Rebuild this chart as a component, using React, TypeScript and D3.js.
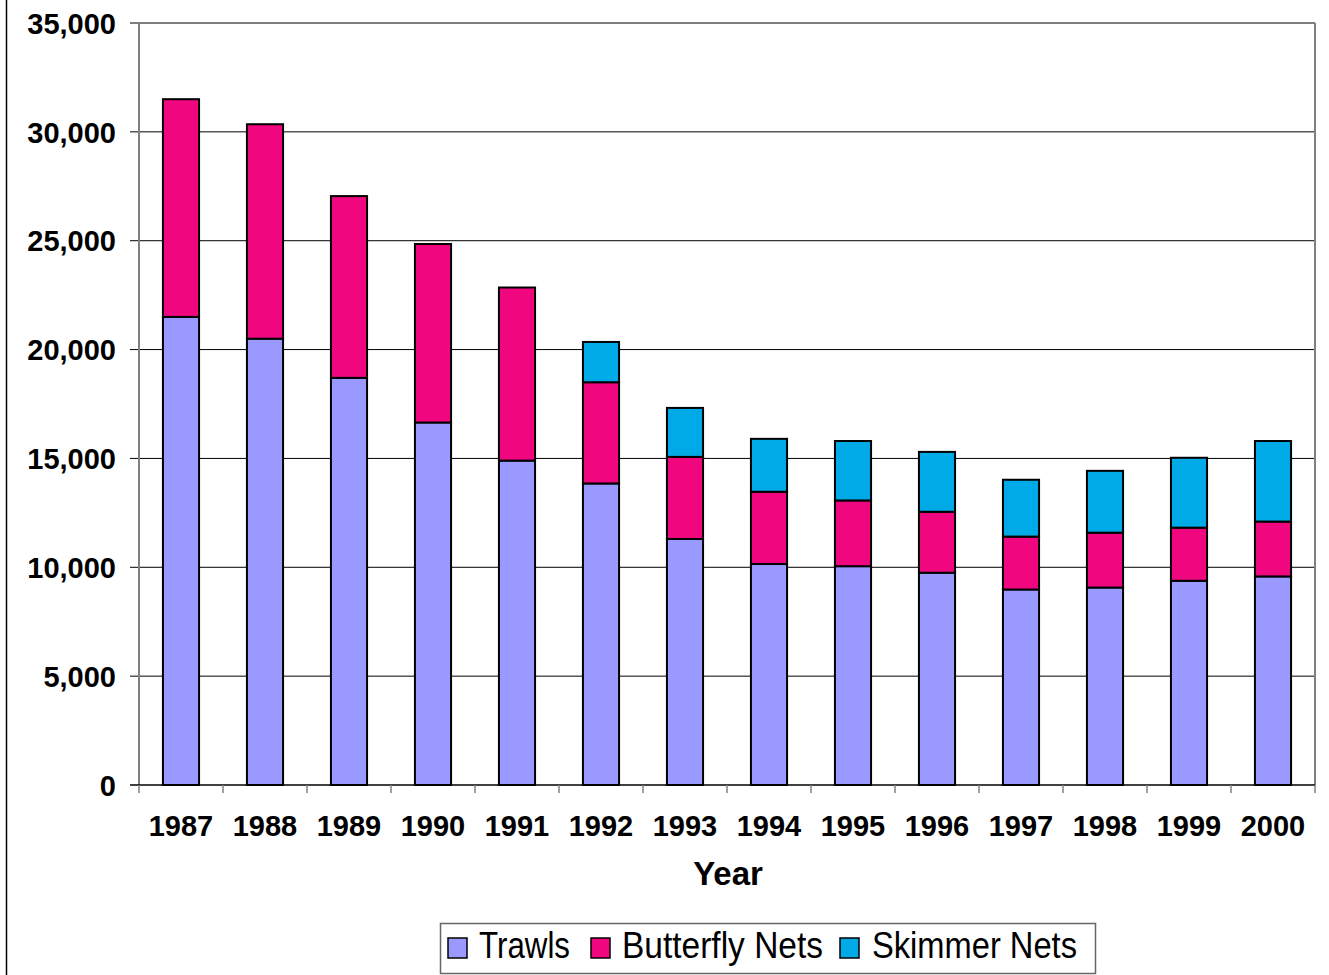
import React from "react";
import * as d3 from "d3";

const years = ["1987","1988","1989","1990","1991","1992","1993","1994","1995","1996","1997","1998","1999","2000"];
const trawls = [21500,20500,18700,16650,14900,13850,11300,10150,10050,9750,8980,9070,9380,9580];
const butterfly = [10000,9850,8350,8200,7950,4650,3770,3320,3020,2800,2430,2520,2440,2520];
const skimmer = [0,0,0,0,0,1850,2250,2430,2730,2750,2610,2840,3210,3700];
const seriesNames = ["Trawls","Butterfly Nets","Skimmer Nets"];
const seriesColors = ["#9999FF","#F0077F","#00AAE6"];
const yTicks = [0,5000,10000,15000,20000,25000,30000,35000];

export default function App() {
  const W = 1329, H = 975;
  const left = 139, right = 1315, top = 23, bottom = 785;
  const x = d3.scaleBand().domain(years).range([left, right]).paddingInner(0.57).paddingOuter(0.285);
  const y = d3.scaleLinear().domain([0, 35000]).range([bottom, top]);
  const fmt = d3.format(",");
  const rows = years.map((yr, i) => ({ year: yr, Trawls: trawls[i], "Butterfly Nets": butterfly[i], "Skimmer Nets": skimmer[i] }));
  const stacked = d3.stack<any>().keys(seriesNames)(rows);
  const step = (right - left) / years.length;
  const font = "'Liberation Sans', Arial, sans-serif";
  const legendItems = [
    { x: 448, tx: 479, tl: 91 },
    { x: 591, tx: 622, tl: 201 },
    { x: 840, tx: 872, tl: 205 },
  ];
  return (
    <svg width={W} height={H} style={{ position: "absolute", left: 0, top: 0, background: "#fff" }} fontFamily={font}>
      <line x1={6.5} y1={0} x2={6.5} y2={H} stroke="#000" strokeWidth={1.5} />
      {yTicks.map(t => (
        <g key={t}>
          {t > 0 && <line x1={left - 9} x2={right} y1={y(t)} y2={y(t)} stroke="#000" strokeWidth={1} />}
          <text x={116} y={y(t)} dy="0.37em" textAnchor="end" fontSize={29} fontWeight="bold" fill="#000">{fmt(t)}</text>
        </g>
      ))}
      <line x1={left} x2={left} y1={top} y2={bottom} stroke="#808080" strokeWidth={2} />
      <line x1={right} x2={right} y1={top} y2={bottom} stroke="#808080" strokeWidth={2} />
      {stacked.map((s, si) => (
        <g key={si}>
          {s.map((d, i) => d[1] - d[0] > 0 ? (
            <rect key={i} x={x(years[i])!} width={x.bandwidth()} y={y(d[1])} height={y(d[0]) - y(d[1])}
              fill={seriesColors[si]} stroke="#000" strokeWidth={2} />
          ) : null)}
        </g>
      ))}
      <line x1={left - 9} x2={right} y1={bottom} y2={bottom} stroke="#000" strokeWidth={1.5} />
      {d3.range(years.length + 1).map(i => (
        <line key={i} x1={left + i * step} x2={left + i * step} y1={bottom} y2={bottom + 8} stroke="#808080" strokeWidth={1.5} />
      ))}
      {years.map(yr => (
        <text key={yr} x={x(yr)! + x.bandwidth() / 2} y={836} textAnchor="middle" fontSize={29} fontWeight="bold" fill="#000">{yr}</text>
      ))}
      <text x={728} y={885} textAnchor="middle" fontSize={33} fontWeight="bold" fill="#000">Year</text>
      <rect x={440.5} y={923.5} width={655} height={50} fill="#fff" stroke="#666" strokeWidth={1.5} />
      {seriesNames.map((n, i) => (
        <g key={n}>
          <rect x={legendItems[i].x} y={938} width={19} height={20} fill={seriesColors[i]} stroke="#000" strokeWidth={1.5} />
          <text x={legendItems[i].tx} y={958} fontSize={37} fill="#000" textLength={legendItems[i].tl} lengthAdjust="spacingAndGlyphs">{n}</text>
        </g>
      ))}
    </svg>
  );
}
